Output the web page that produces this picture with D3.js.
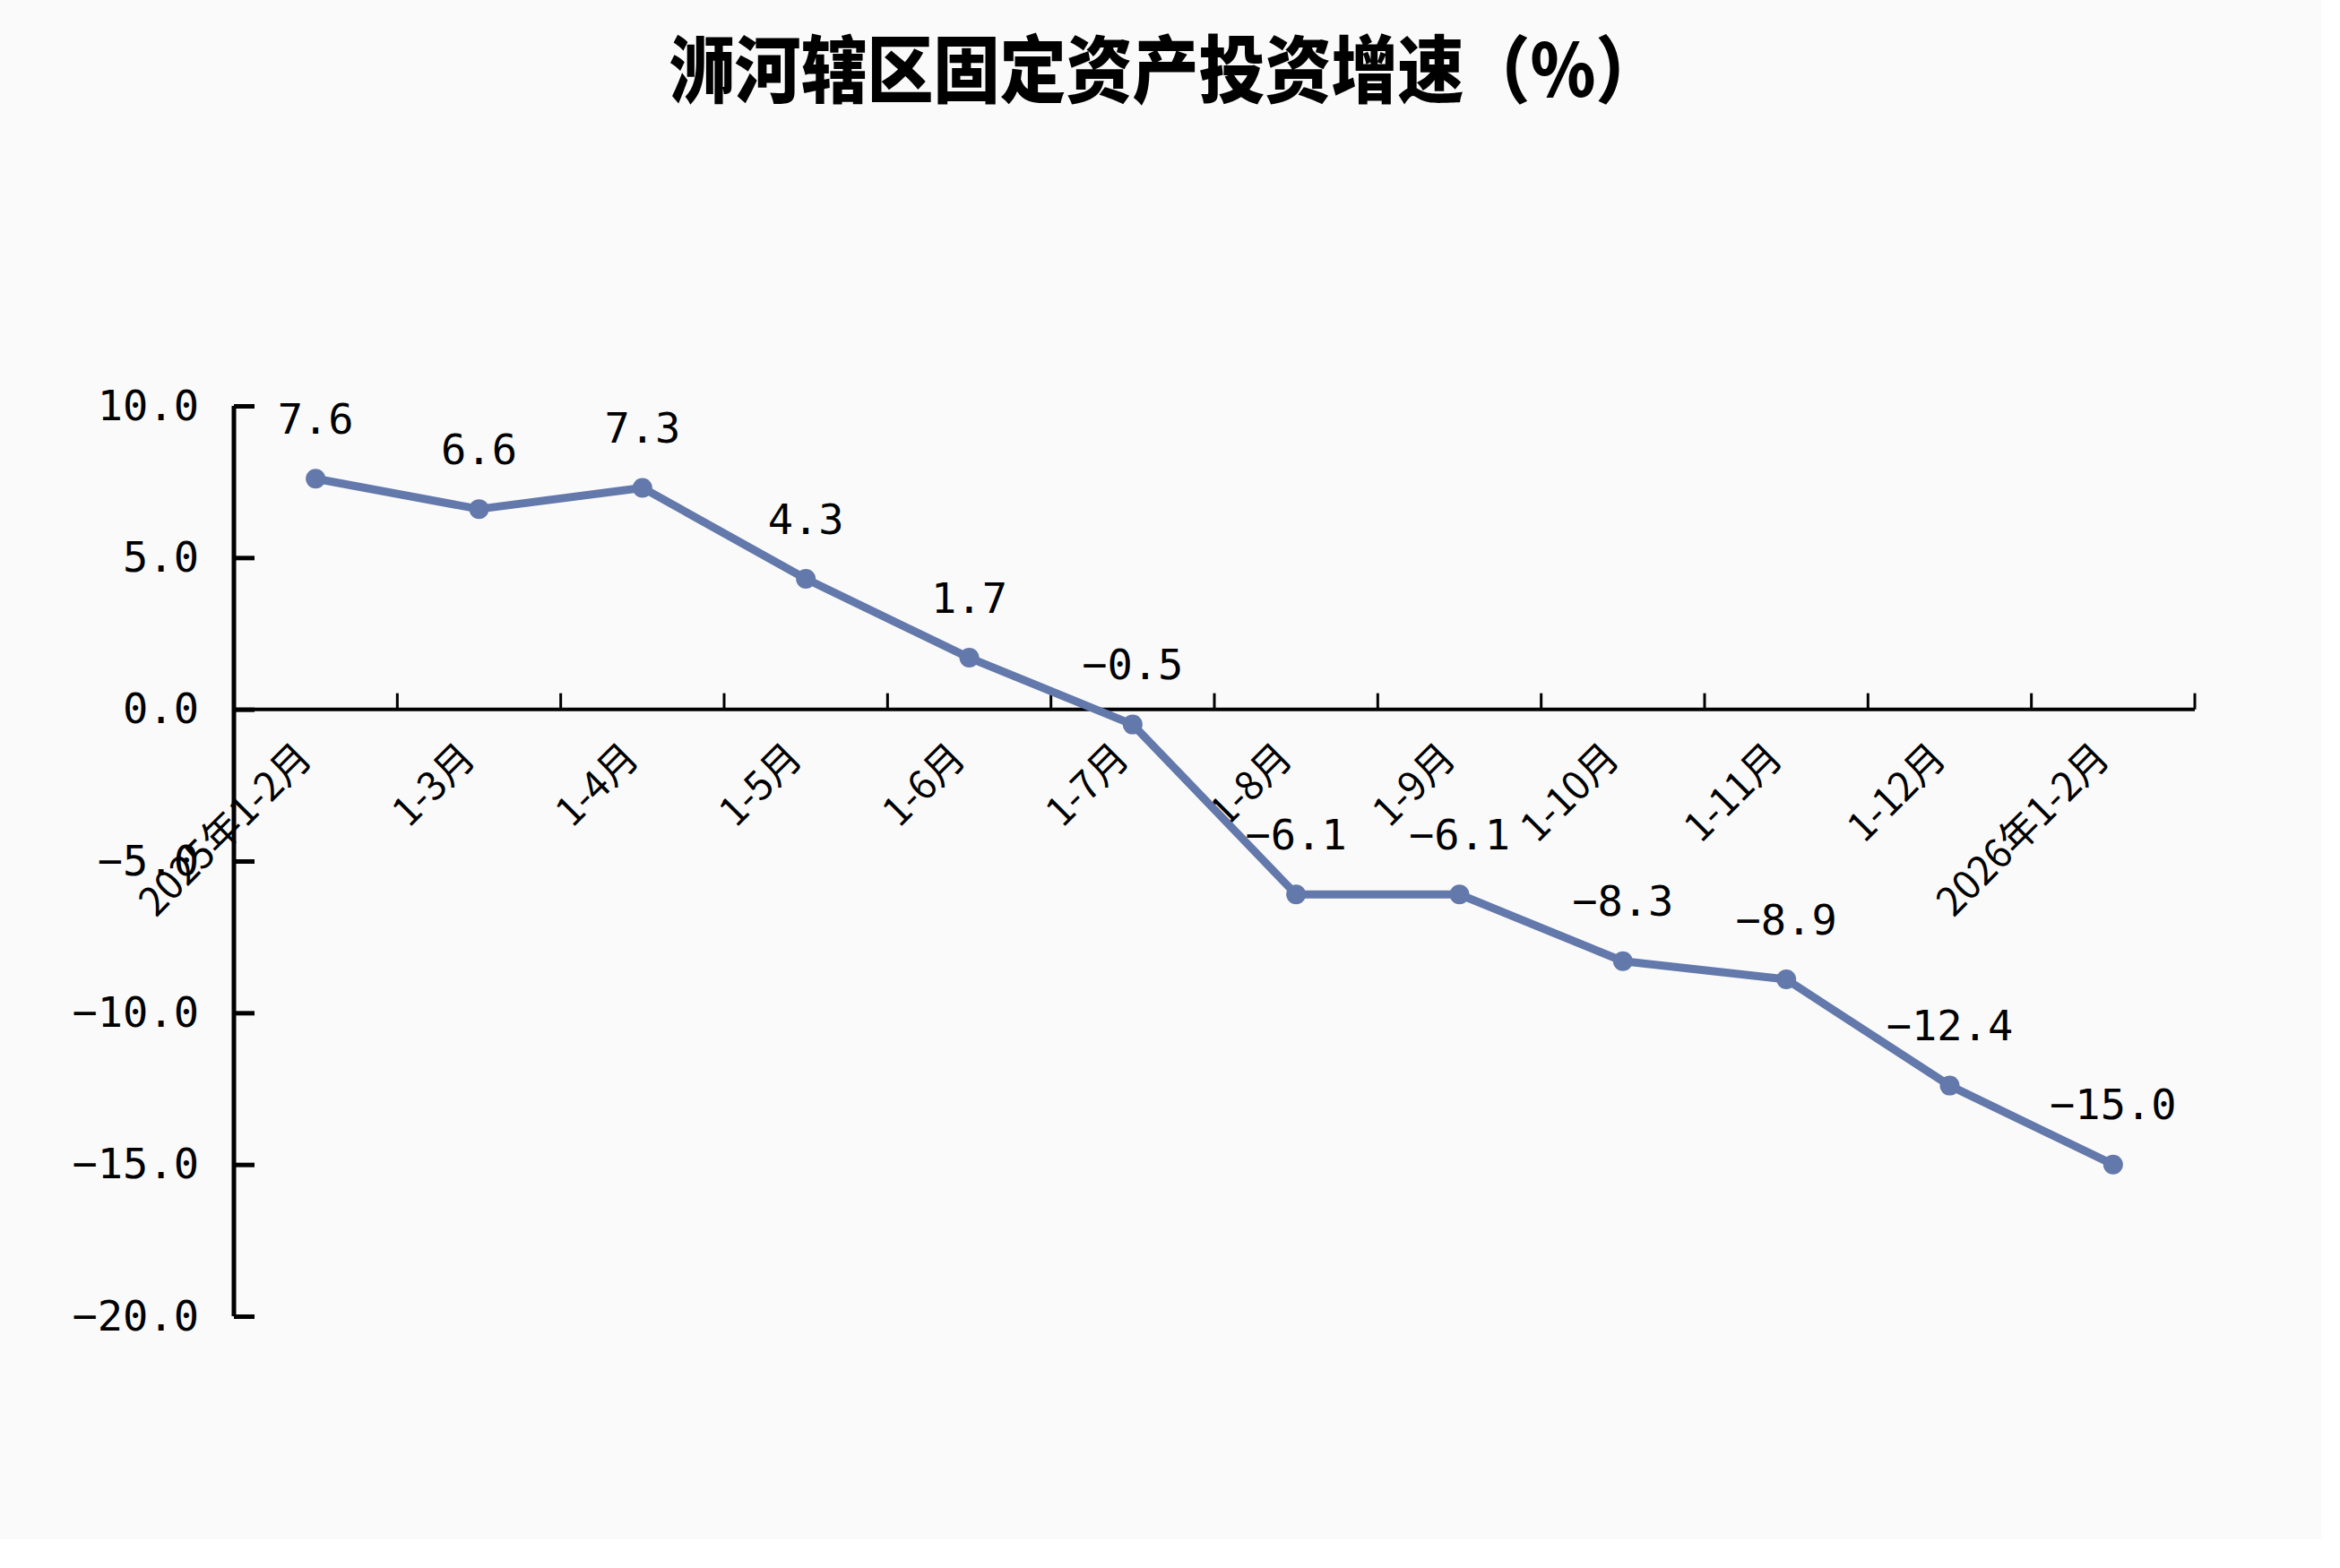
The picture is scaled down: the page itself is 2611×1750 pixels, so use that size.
<html>
<head>
<meta charset="utf-8">
<script src="https://d3js.org/d3.v7.min.js"></script>
<style>
  body { margin: 0; background: #ffffff; }
</style>
</head>
<body>
<svg width="2611" height="1750"></svg>
<script>
// 浉河辖区固定资产投资增速
var categories = ["2025年1-2月", "1-3月", "1-4月", "1-5月", "1-6月", "1-7月",
                  "1-8月", "1-9月", "1-10月", "1-11月", "1-12月", "2026年1-2月"];
var growth = [7.6, 6.6, 7.3, 4.3, 1.7, -0.5, -6.1, -6.1, -8.3, -8.9, -12.4, -15.0];
var yTicks = [10, 5, 0, -5, -10, -15, -20];
var title = "浉河辖区固定资产投资增速（%）";

var plotLeft = 261, plotRight = 2449, plotTop = 453, plotBottom = 1469;
var lineColor = "#6378ab";
var numFont = "'DejaVu Sans Mono', monospace";
var cjkFont = "'Noto Sans CJK SC', sans-serif";

var svg = d3.select("svg");

svg.append("rect")
    .attr("x", 0).attr("y", 0)
    .attr("width", 2590).attr("height", 1718)
    .attr("fill", "#fafafa");

svg.append("text")
    .attr("transform", "translate(1300,72) scale(1,1.1)")
    .attr("text-anchor", "middle")
    .attr("dominant-baseline", "central")
    .style("font-family", cjkFont)
    .style("font-weight", 900)
    .style("font-size", "74px")
    .text(title);

var x = d3.scaleBand()
    .domain(categories)
    .range([plotLeft, plotRight]);

var y = d3.scaleLinear()
    .domain([-20, 10])
    .range([plotBottom, plotTop]);

var fmt = function(d) { return d3.format(".1f")(d).replace("-", "\u2212"); };

// y axis, ticks pointing inward
var yAxis = svg.append("g")
    .attr("transform", "translate(" + plotLeft + ",0)")
    .call(d3.axisRight(y).tickValues(yTicks).tickSize(23).tickFormat(""));
yAxis.select(".domain").attr("stroke", "#000").attr("stroke-width", 5)
    .attr("d", "M0," + plotTop + "V" + plotBottom);
yAxis.selectAll(".tick line").attr("stroke", "#000").attr("stroke-width", 5);

svg.append("g").selectAll("text")
    .data(yTicks)
    .join("text")
    .attr("x", 222)
    .attr("y", function(d) { return y(d) + 3; })
    .attr("text-anchor", "end")
    .attr("dominant-baseline", "middle")
    .style("font-family", numFont)
    .style("font-size", "47px")
    .text(fmt);

// x axis at zero, ticks on category boundaries pointing up
var bounds = categories.map(function(c) { return x(c) + x.bandwidth(); });
var xAxisG = svg.append("g");
xAxisG.append("line")
    .attr("x1", plotLeft).attr("x2", plotRight)
    .attr("y1", y(0)).attr("y2", y(0))
    .attr("stroke", "#000").attr("stroke-width", 4);
xAxisG.selectAll("line.tk")
    .data(bounds)
    .join("line")
    .attr("class", "tk")
    .attr("x1", function(d) { return d; }).attr("x2", function(d) { return d; })
    .attr("y1", y(0)).attr("y2", y(0) - 18)
    .attr("stroke", "#000").attr("stroke-width", 3);

svg.append("g").selectAll("text")
    .data(categories)
    .join("text")
    .attr("transform", function(d) {
        return "translate(" + (x(d) + x.bandwidth() / 2 - 10) + "," + (y(0) + 48) + ") rotate(-45)";
    })
    .attr("text-anchor", "end")
    .attr("dominant-baseline", "middle")
    .style("font-family", cjkFont)
    .style("font-size", "44px")
    .text(function(d) { return d; });

// line and markers
var line = d3.line()
    .x(function(d, i) { return x(categories[i]) + x.bandwidth() / 2; })
    .y(function(d) { return y(d); });

svg.append("path")
    .datum(growth)
    .attr("d", line)
    .attr("fill", "none")
    .attr("stroke", lineColor)
    .attr("stroke-width", 9)
    .attr("stroke-linejoin", "round");

svg.append("g").selectAll("circle")
    .data(growth)
    .join("circle")
    .attr("cx", function(d, i) { return x(categories[i]) + x.bandwidth() / 2; })
    .attr("cy", function(d) { return y(d); })
    .attr("r", 11)
    .attr("fill", lineColor);

svg.append("g").selectAll("text")
    .data(growth)
    .join("text")
    .attr("x", function(d, i) { return x(categories[i]) + x.bandwidth() / 2; })
    .attr("y", function(d) { return y(d) - 63; })
    .attr("text-anchor", "middle")
    .attr("dominant-baseline", "middle")
    .style("font-family", numFont)
    .style("font-size", "47px")
    .text(fmt);
</script>
</body>
</html>
